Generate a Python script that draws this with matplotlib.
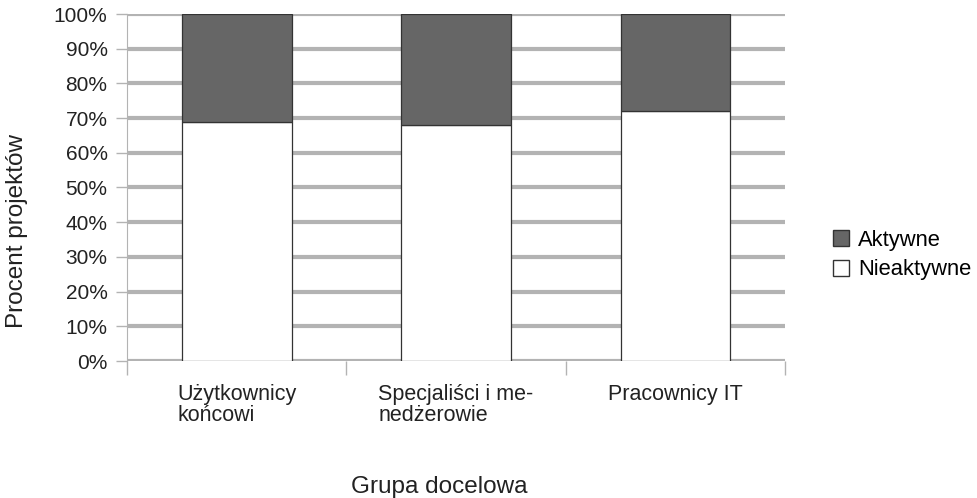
import matplotlib
matplotlib.use("Agg")
import matplotlib.pyplot as plt
from matplotlib.patches import Patch

plt.rcParams['font.family'] = ['Liberation Sans', 'DejaVu Sans']

categories = ["Użytkownicy\nkońcowi", "Specjaliści i me-\nnedżerowie", "Pracownicy IT"]
nieaktywne = [69, 68, 72]
aktywne = [31, 32, 28]
yticks = list(range(0, 101, 10))

W, H = 978, 498
fig = plt.figure(figsize=(W / 100, H / 100), dpi=100)
ax = fig.add_axes([127 / W, 1 - 361 / H, 658 / W, 347 / H])

x = list(range(len(categories)))
ax.bar(x, nieaktywne, width=0.5, color="white", edgecolor="#333333", linewidth=0.9, zorder=3)
ax.bar(x, aktywne, width=0.5, bottom=nieaktywne, color="#666666", edgecolor="#333333",
       linewidth=0.9, zorder=3)

ax.set_xlim(-0.5, 2.5)
ax.set_ylim(0, 100)
ax.set_yticks(yticks)
ax.set_yticklabels([f"{v}%" for v in yticks], fontsize=15, color="#222222")
for v in yticks:
    ax.axhline(v, color="#b3b3b3", linewidth=3, zorder=1)

ax.set_xticks([-0.5, 0.5, 1.5, 2.5])
ax.set_xticklabels([])
ax.tick_params(axis='x', length=10, color="#b3b3b3", width=1, direction='out')
ax.tick_params(axis='y', length=8, color="#b3b3b3", width=1, direction='out', pad=6)
for i, lab in enumerate(categories):
    ax.text(i, -6.5, lab, ha='center', va='top', multialignment='left', fontsize=15.5,
            linespacing=1.0, color="#222222", transform=ax.transData)

for s in ["top", "right", "bottom"]:
    ax.spines[s].set_visible(False)
ax.spines["left"].set_color("#b3b3b3")

fig.text(17 / W, 1 - 231 / H, "Procent projektów", rotation=90, ha='center', va='center',
         fontsize=17.5, color="#222222")
fig.text(439 / W, 1 - 493 / H, "Grupa docelowa", ha='center', va='baseline', fontsize=17.5,
         color="#222222")

handles = [Patch(facecolor="#666666", edgecolor="#333333", label="Aktywne"),
           Patch(facecolor="white", edgecolor="#333333", label="Nieaktywne")]
fig.legend(handles=handles, loc='center left', bbox_to_anchor=(833 / W, 1 - 255 / H),
           frameon=False, fontsize=15.8, handlelength=0.75, handleheight=0.75,
           handletextpad=0.4, labelspacing=0.4, borderaxespad=0, borderpad=0)

fig.savefig("out.png", dpi=100)
